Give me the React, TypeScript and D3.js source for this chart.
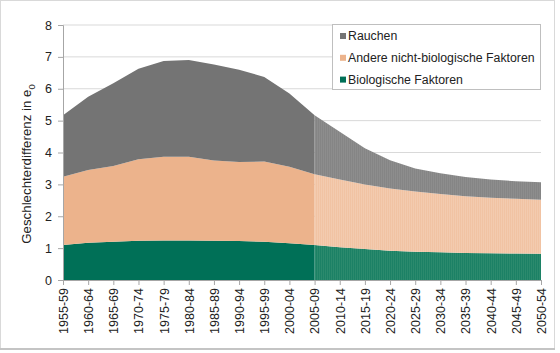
import React, { useEffect, useRef } from 'react';
import * as d3 from 'd3';

const periods = [
  '1955-59', '1960-64', '1965-69', '1970-74', '1975-79', '1980-84', '1985-89',
  '1990-94', '1995-99', '2000-04', '2005-09', '2010-14', '2015-19', '2020-24',
  '2025-29', '2030-34', '2035-39', '2040-44', '2045-49', '2050-54',
];
const biologisch = [1.1, 1.17, 1.2, 1.23, 1.24, 1.24, 1.23, 1.22, 1.2, 1.15, 1.1, 1.03, 0.97, 0.92, 0.89, 0.87, 0.85, 0.84, 0.83, 0.82];
const andere = [2.14, 2.28, 2.38, 2.56, 2.63, 2.63, 2.52, 2.48, 2.52, 2.4, 2.22, 2.12, 2.03, 1.95, 1.89, 1.83, 1.78, 1.74, 1.72, 1.7];
const rauchen = [1.93, 2.3, 2.59, 2.84, 3.0, 3.03, 3.01, 2.9, 2.65, 2.3, 1.85, 1.5, 1.13, 0.89, 0.72, 0.65, 0.6, 0.57, 0.55, 0.55];
const yTicks = [0, 1, 2, 3, 4, 5, 6, 7, 8];
const prognoseStart = '2005-09';

const keys = ['bio', 'andere', 'rauchen'];
const colors = { bio: '#007057', andere: '#ecb38c', rauchen: '#747474' };
const lightColors = { bio: '#2b8a6d', andere: '#f3cbaf', rauchen: '#8d8d8d' };
const legendItems = [
  { key: 'rauchen', label: 'Rauchen' },
  { key: 'andere', label: 'Andere nicht-biologische Faktoren' },
  { key: 'bio', label: 'Biologische Faktoren' },
];

const App = () => {
  const ref = useRef(null);

  useEffect(() => {
    const svg = d3.select(ref.current);
    svg.selectAll('*').remove();
    const W = 560, H = 353;
    const font = 'Liberation Sans, Arial, sans-serif';

    // frame
    svg.append('rect').attr('x', 0.5).attr('y', 0.5).attr('width', W - 6).attr('height', H - 5)
      .attr('fill', '#fff').attr('stroke', '#d9d9d9');
    svg.append('line').attr('x1', 0).attr('x2', W - 5).attr('y1', H - 4).attr('y2', H - 4)
      .attr('stroke', '#c4c4c4').attr('stroke-width', 2);

    const x = d3.scalePoint().domain(periods).range([63, 541]);
    const y = d3.scaleLinear().domain([0, 8]).range([280, 25]);

    const rows = periods.map((p, i) => ({ p, bio: biologisch[i], andere: andere[i], rauchen: rauchen[i] }));
    const series = d3.stack().keys(keys)(rows);

    // Muster fuer die Prognose
    const defs = svg.append('defs');
    keys.forEach((k) => {
      const pat = defs.append('pattern').attr('id', 'pat-' + k).attr('patternUnits', 'userSpaceOnUse')
        .attr('width', 2).attr('height', 4);
      pat.append('rect').attr('width', 2).attr('height', 4).attr('fill', lightColors[k]);
      pat.append('rect').attr('width', 1).attr('height', 4).attr('fill', colors[k]).attr('opacity', 0.35);
    });

    // gridlines
    svg.append('g').selectAll('line').data(yTicks.filter((t) => t > 0)).join('line')
      .attr('x1', 63).attr('x2', 541).attr('y1', (d) => y(d)).attr('y2', (d) => y(d))
      .attr('stroke', '#d9d9d9').attr('stroke-width', 1);

    const area = d3.area<any>()
      .x((d) => x(d.data.p))
      .y0((d) => y(d[0]))
      .y1((d) => y(d[1]));

    const clipL = defs.append('clipPath').attr('id', 'clipL');
    clipL.append('rect').attr('x', 0).attr('y', 0).attr('width', x(prognoseStart)).attr('height', H);
    const clipR = defs.append('clipPath').attr('id', 'clipR');
    clipR.append('rect').attr('x', x(prognoseStart)).attr('y', 0).attr('width', W).attr('height', H);

    const g = svg.append('g');
    series.forEach((s) => {
      g.append('path').datum(s).attr('d', area).attr('fill', colors[s.key]).attr('clip-path', 'url(#clipL)');
      g.append('path').datum(s).attr('d', area).attr('fill', `url(#pat-${s.key})`).attr('clip-path', 'url(#clipR)');
    });

    // y axis
    const ya = svg.append('g').attr('transform', 'translate(63,0)')
      .call(d3.axisLeft(y).tickValues(yTicks).tickSize(5).tickPadding(6).tickFormat(d3.format('d')));
    ya.select('.domain').attr('stroke', '#a6a6a6');
    ya.selectAll('.tick line').attr('stroke', '#a6a6a6');
    ya.selectAll('text').attr('font-size', 12.5).attr('font-family', font).attr('fill', '#222');

    // x axis
    const xa = svg.append('g').attr('transform', 'translate(0,280)')
      .call(d3.axisBottom(x).tickSize(5).tickPadding(4));
    xa.select('.domain').attr('stroke', '#a6a6a6');
    xa.selectAll('.tick line').attr('stroke', '#a6a6a6');
    xa.selectAll('text').attr('font-size', 12.5).attr('font-family', font).attr('fill', '#222')
      .attr('transform', 'rotate(-90)').attr('text-anchor', 'end').attr('dy', '0.35em')
      .attr('x', -8).attr('y', 0);

    // y label
    const yl = svg.append('text').attr('transform', 'translate(31,164) rotate(-90)')
      .attr('text-anchor', 'middle').attr('font-family', font).attr('font-size', 13.3).attr('fill', '#222');
    yl.append('tspan').text('Geschlechterdifferenz in e');
    yl.append('tspan').attr('font-size', 9.5).attr('dy', 4).text('0');

    // legend
    const lg = svg.append('g');
    lg.append('rect').attr('x', 332.5).attr('y', 24.5).attr('width', 208).attr('height', 65)
      .attr('fill', '#fff').attr('stroke', '#bfbfbf');
    legendItems.forEach((it, i) => {
      const cy = 36 + i * 21.8;
      lg.append('rect').attr('x', 340).attr('y', cy - 3).attr('width', 6).attr('height', 6).attr('fill', colors[it.key]);
      lg.append('text').attr('x', 348).attr('y', cy).attr('dy', '0.35em').attr('font-family', font)
        .attr('font-size', 12.3).attr('fill', '#222').text(it.label);
    });
  }, []);

  return <svg ref={ref} width={560} height={353} style={{ position: 'absolute', left: 0, top: 0 }} />;
};

export default App;
